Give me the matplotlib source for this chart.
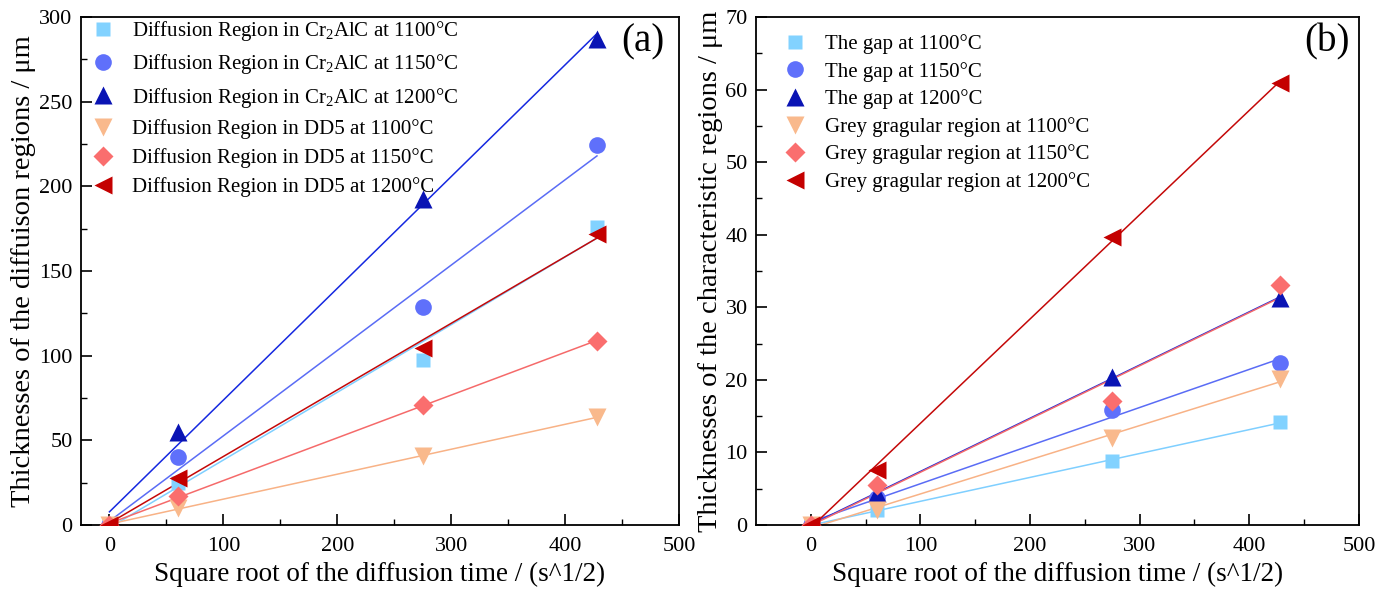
import numpy as np
import matplotlib
matplotlib.use("Agg")
import matplotlib.pyplot as plt

plt.rcParams["font.family"] = ["Liberation Serif", "DejaVu Serif"]
plt.rcParams["mathtext.fontset"] = "custom"
plt.rcParams["mathtext.rm"] = "Liberation Serif"
plt.rcParams["mathtext.it"] = "Liberation Serif:italic"

# Square root of diffusion time (s^1/2)
x = [0, 60, 275, 428]

# Panel (a): diffusion region thickness (um)
cr_1100 = [0, 25, 97.5, 176]
cr_1150 = [0, 40, 129, 224.5]
cr_1200 = [0, 55, 192.5, 287]
dd5_1100 = [0, 10, 41, 63.5]
dd5_1150 = [0, 17, 71, 108.5]
dd5_1200 = [0, 28, 104.5, 172]

# Panel (b): characteristic region thickness (um)
gap_1100 = [0, 2.0, 8.8, 14.2]
gap_1150 = [0, 3.7, 15.8, 22.3]
gap_1200 = [0, 4.4, 20.4, 31.3]
grey_1100 = [0, 2.1, 12.0, 20.1]
grey_1150 = [0, 5.5, 17.1, 33.1]
grey_1200 = [0, 7.6, 39.7, 60.9]

labels_a = [
    r"Diffusion Region in Cr$_2$AlC at 1100°C",
    r"Diffusion Region in Cr$_2$AlC at 1150°C",
    r"Diffusion Region in Cr$_2$AlC at 1200°C",
    "Diffusion Region in DD5 at 1100°C",
    "Diffusion Region in DD5 at 1150°C",
    "Diffusion Region in DD5 at 1200°C",
]
labels_b = [
    "The gap at 1100°C",
    "The gap at 1150°C",
    "The gap at 1200°C",
    "Grey gragular region at 1100°C",
    "Grey gragular region at 1150°C",
    "Grey gragular region at 1200°C",
]

marker_colors = ["#82d2ff", "#5f70fb", "#0a14b4", "#f9b98c", "#fa6e6e", "#c40000"]
line_colors = ["#7fcfff", "#5a6cf5", "#1528e0", "#f8b286", "#f56a6a", "#c40808"]
markers = ["s", "o", "^", "v", "D", "<"]
msizes = [10, 12, 13, 13, 10.5, 13]

fig = plt.figure(figsize=(13.84, 5.89), dpi=100)
ax_a = fig.add_axes([0.0585, 0.1087, 0.4321, 0.8625])
ax_b = fig.add_axes([0.5462, 0.1087, 0.4357, 0.8625])


def draw(ax, series, labels):
    xs = np.array(x, dtype=float)
    handles = []
    for i, ys in enumerate(series):
        ys = np.array(ys, dtype=float)
        k, b = np.polyfit(xs, ys, 1)
        xf = np.array([xs.min(), xs.max()])
        ax.plot(xf, k * xf + b, color=line_colors[i], lw=1.1, zorder=2)
    for i, ys in enumerate(series):
        h, = ax.plot(x, ys, linestyle="none", marker=markers[i], ms=msizes[i],
                     color=marker_colors[i], mec="none", zorder=3, label=labels[i])
        handles.append(h)
    return handles


def style(ax, ylim, ymajor, yminor, xleft):
    ax.set_xlim(xleft, 500)
    ax.set_ylim(*ylim)
    ax.set_xticks(np.arange(0, 501, 100))
    ax.set_xticks(np.arange(0, 501, 50), minor=True)
    ax.set_yticks(np.arange(ylim[0], ylim[1] + 0.1, ymajor))
    ax.set_yticks(np.arange(ylim[0], ylim[1] + 0.1, yminor), minor=True)
    ax.tick_params(which="major", direction="in", length=8, width=1.2,
                   labelsize=16, pad=6)
    ax.tick_params(which="minor", direction="in", length=4.5, width=1.0)
    ax.tick_params(axis="x", pad=9)
    for s in ax.spines.values():
        s.set_linewidth(1.3)
    ax.set_xlabel("Square root of the diffusion time / (s^1/2)", fontsize=19.5,
                  labelpad=4)


h_a = draw(ax_a, [cr_1100, cr_1150, cr_1200, dd5_1100, dd5_1150, dd5_1200], labels_a)
style(ax_a, (0, 300), 50, 25, -25)
ax_a.set_ylabel("Thicknesses of the diffuison regions / μm", fontsize=20.5, labelpad=2)
ax_a.text(0.94, 0.95, "(a)", transform=ax_a.transAxes, fontsize=28,
          ha="center", va="center")
ax_a.legend(handles=h_a, loc="upper left", bbox_to_anchor=(-0.015, 1.025),
            frameon=False, fontsize=15, handletextpad=0.6, labelspacing=0.45,
            borderaxespad=0.3, handlelength=1.6)

h_b = draw(ax_b, [gap_1100, gap_1150, gap_1200, grey_1100, grey_1150, grey_1200], labels_b)
style(ax_b, (0, 70), 10, 5, -50)
ax_b.set_ylabel("Thicknesses of the characteristic regions / μm", fontsize=20.5,
                labelpad=2)
ax_b.text(0.947, 0.95, "(b)", transform=ax_b.transAxes, fontsize=28,
          ha="center", va="center")
ax_b.legend(handles=h_b, loc="upper left", bbox_to_anchor=(0.013, 0.995),
            frameon=False, fontsize=15, handletextpad=0.65, labelspacing=0.37,
            borderaxespad=0.3, handlelength=1.6)

fig.savefig("out.png", dpi=100)
